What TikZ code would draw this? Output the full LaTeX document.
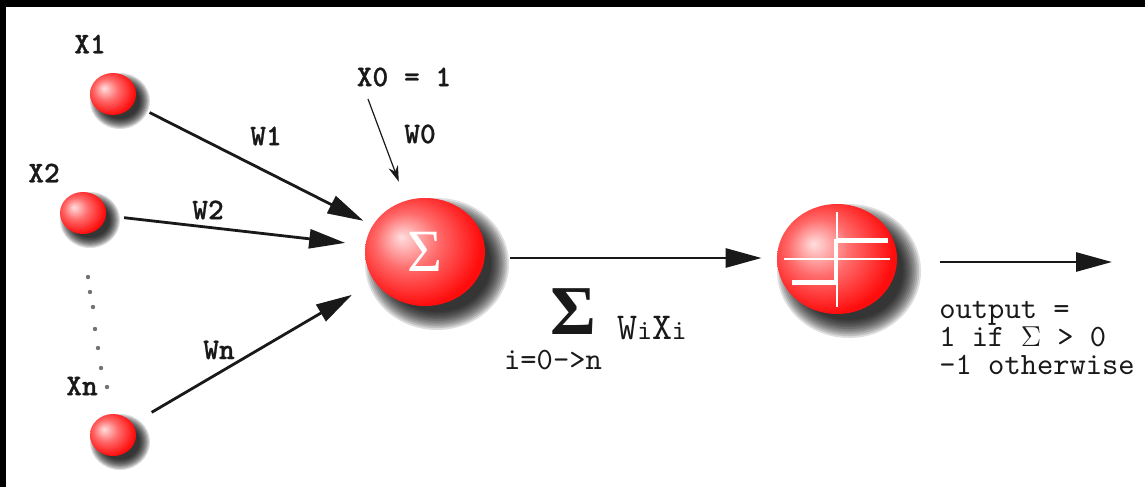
\documentclass[tikz,border=0pt]{standalone}
\usepackage{fontspec}
\setmainfont{Liberation Serif}
\setmonofont{lmmono10-regular.otf}[BoldFont=lmmonolt10-bold.otf, BoldFeatures={FakeBold=0.8}]
\usetikzlibrary{positioning, calc, arrows.meta, shapes.geometric}
\definecolor{ballred}{RGB}{255, 12, 12}
\definecolor{ballpink}{RGB}{255, 222, 222}
\definecolor{ink}{RGB}{25, 25, 25}
\pgfdeclareradialshading{redball}{\pgfpoint{-10bp}{7bp}}{color(0bp)=(ballpink); color(13bp)=(ballred!55!ballpink); color(28bp)=(ballred); color(50bp)=(ballred)}
\pgfdeclarelayer{bg}
\pgfsetlayers{bg,main}

\begin{document}
\begin{tikzpicture}[x=0.5pt, y=-0.5pt, every node/.style={font=\ttfamily\bfseries\fontsize{15}{17}\selectfont, text=ink}]
    \tikzstyle{ball} = [ellipse, shading=redball, minimum width=23pt, minimum height=21pt, inner sep=0pt]
    \tikzstyle{bigball} = [ball, minimum width=60pt, minimum height=54pt]
    \tikzstyle{arrow} = [line width=1.4pt, -{Triangle[length=18pt, width=9.5pt]}, draw=ink]
    \tikzstyle{thinarrow} = [line width=0.6pt, -{Stealth[length=8pt, width=5pt]}, draw=ink]
    \tikzstyle{plain} = [font=\ttfamily\fontsize{15.5}{14}\selectfont]

    % frame
    \useasboundingbox (0,0) rectangle (1145,487);

    % inputs
    \node (x1) [ball] at (113,94) {};
    \node (x2) [ball] at (83,213) {};
    \node (xn) [ball] at (113,435) {};
    \node (x1lab) at (90,44) {X1};
    \node (x2lab) at (44,173) {X2};
    \node (xnlab) at (82,386) {Xn};
    \foreach \p in {(88,277), (90,292), (93,307), (95,329), (98,348), (101,368), (107,387)}
        \fill[black!55] \p circle (1.1pt);

    % summation and threshold units
    \node (sum) [bigball] at (425,252) {\rmfamily\mdseries\fontsize{30}{30}\selectfont\color{white}Σ};
    \node (step) [bigball, minimum height=55pt] at (837,259) {};
    \begin{scope}[shift={(step.center)}, white]
        \draw[line width=0.75pt] (0,-47) -- (0,48);
        \draw[line width=0.75pt] (-53,0) -- (53,0);
        \draw[line width=2.5pt] (-45,23) -- (-1,23);
        \draw[line width=1.6pt] (-1,24) -- (-1,-20);
        \draw[line width=2.5pt] (-1,-19) -- (51,-19);
    \end{scope}

    % soft shadows behind the balls
    \begin{pgfonlayer}{bg}
        \fill[white] (0,0) rectangle (1145,487);
        \fill[black] (0,0) rectangle (1145,7);
        \fill[black] (0,0) rectangle (6,487);
        \foreach \c/\rx/\ry/\d in {x1/23/21/7, x2/23/21/7, xn/23/21/7, sum/60/54/12, step/60/55/12}
            \foreach \k in {0,...,10}
                \fill[black, opacity=0.13] ($(\c)+(\d,\d)$) ellipse ({(\rx+\d*(1-0.15*\k))*0.5pt} and {(\ry+\d*(1-0.15*\k))*0.5pt});
    \end{pgfonlayer}

    % weights
    \node (x0) at (404,77) {X0 = 1};
    \node (w0) at (420,134) {W0};
    \node (w1) at (266,136) {W1};
    \node (w2) at (208,210) {W2};
    \node (wn) at (219,350) {Wn};

    % sum label and output rule
    \node (sigma) [inner sep=0pt] at (573,312) {\rmfamily\bfseries\fontsize{35}{35}\selectfont Σ};
    \node (wixi) at (652,328) {\mdseries\fontsize{19}{19}\selectfont W{\fontsize{14}{14}\selectfont i}X{\fontsize{14}{14}\selectfont i}};
    \node (range) [plain, inner sep=0pt] at (553,360) {i=0->n};
    \node (rule) [plain, anchor=north west, align=left, inner sep=0pt] at (939,301) {output =\\1 if $\Sigma$ > 0\\-1 otherwise};
    \coordinate (w0tail) at (368,99);
    \coordinate (out) at (1112,262);

    % Arrows
    \draw [arrow, shorten <=9pt, shorten >=5pt] (x1) -- (sum);
    \draw [arrow, shorten <=9pt, shorten >=10pt] (x2) -- (sum);
    \draw [arrow, shorten <=11pt, shorten >=13pt] (xn) -- (sum);
    \draw [thinarrow, shorten >=10pt] (w0tail) -- (sum);
    \draw [arrow, shorten <=12.5pt, shorten >=7.5pt] ([yshift=-3pt]sum.east) -- ([yshift=-3pt]sum.east -| step.west);
    \draw [arrow, shorten <=21.5pt] ([yshift=-1.5pt]step.east) -- (out);
\end{tikzpicture}
\end{document}
